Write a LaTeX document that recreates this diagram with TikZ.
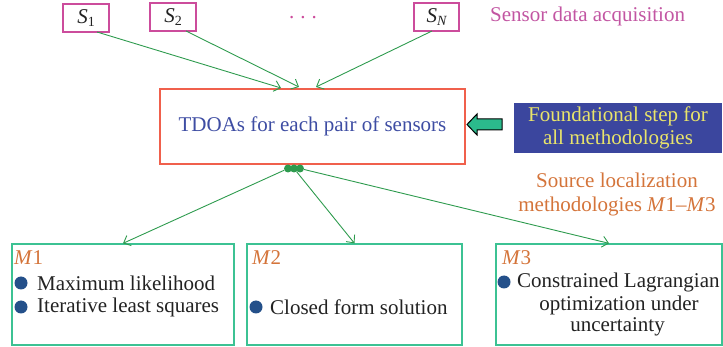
\documentclass[tikz,border=0pt]{standalone}
\usepackage{fontspec}
\setmainfont{Liberation Serif}
\usetikzlibrary{arrows.meta}
\definecolor{magb}{HTML}{CC4C9C}
\definecolor{magt}{HTML}{C255A2}
\definecolor{grn}{HTML}{2E9B4E}
\definecolor{redb}{HTML}{F0604C}
\definecolor{bluet}{HTML}{3E4DA3}
\definecolor{blueb}{HTML}{3B469E}
\definecolor{yel}{HTML}{E9E46A}
\definecolor{orng}{HTML}{D4743A}
\definecolor{teal}{HTML}{3CC293}
\definecolor{tealf}{HTML}{2BBA8C}
\definecolor{bul}{HTML}{24508A}
\definecolor{txt}{HTML}{222222}
\newcommand{\sensorlab}[1]{{\itshape S}\raisebox{-0.3ex}{\fontsize{14}{14}\selectfont #1}}
\begin{document}
\begin{tikzpicture}[x=1pt,y=-1pt,
  sbox/.style={draw=magb,line width=1.3pt,minimum width=46pt,minimum height=28pt,inner sep=0pt,text=txt,font=\fontsize{21}{22}\selectfont},
  mbox/.style={draw=teal,line width=1.3pt,minimum height=101pt,inner sep=0pt},
  conn/.style={draw=grn,line width=0.9pt,-{Straight Barb[length=6pt,width=11pt]}},
  mlab/.style={text=orng,font=\fontsize{21}{22}\selectfont,anchor=west,inner sep=0pt},
  btxt/.style={text=txt,font=\fontsize{21}{22}\selectfont,inner sep=0pt},
  bullet/.style={circle,fill=bul,minimum size=13pt,inner sep=0pt}]
\useasboundingbox (0,0) rectangle (723,347);
% sensors
\node[sbox] (s1) at (86,18) {\sensorlab{1}};
\node[sbox] (s2) at (173,17) {\sensorlab{2}};
\node[sbox,minimum width=45pt] (sn) at (436.5,17) {\sensorlab{\itshape N}};
\node[text=magb,font=\fontsize{21}{22}\selectfont,inner sep=0pt,anchor=base] (dots) at (303,19) {.\hspace{6pt}.\hspace{6pt}.};
\node[text=magt,font=\fontsize{21}{22}\selectfont,anchor=west,inner sep=0pt] (sda) at (490,16) {Sensor data acquisition};
% TDOA
\node[draw=redb,line width=1.3pt,minimum width=305pt,minimum height=75pt,inner sep=0pt,text=bluet,font=\fontsize{21}{22}\selectfont] (tdoa) at (312.5,126.5) {TDOAs for each pair of sensors};
\coordinate (a1) at (97,32);
\coordinate (a2) at (186,31);
\coordinate (an) at (432,31);
\coordinate (t1) at (281,88);
\coordinate (t2) at (299,87);
\coordinate (tn) at (316,87);
\draw[conn] (a1) -- (t1);
\draw[conn] (a2) -- (t2);
\draw[conn] (an) -- (tn);
% foundational
\node[fill=blueb,minimum width=208pt,minimum height=50pt,inner sep=0pt,text=yel,align=center,font=\fontsize{21}{23}\selectfont] (fs) at (618,128) {Foundational step for\\all methodologies};
\draw[fill=tealf,draw=black,line width=1pt] (467,124.5) -- (477,114) -- (477,119) -- (502,119) -- (502,130) -- (477,130) -- (477,135) -- cycle;
\node[text=orng,align=center,font=\fontsize{21}{24}\selectfont] (sl) at (617,194) {Source localization\\methodologies \textit{M}1--\textit{M}3};
% hub dots
\foreach \i/\x in {h1/288,h2/294,h3/300}{\node[circle,fill=grn,minimum size=8pt,inner sep=0pt] (\i) at (\x,168.5) {};}
% method boxes
\node[mbox,minimum width=222pt] (m1) at (123,294.5) {};
\node[mbox,minimum width=215pt] (m2) at (354.5,294.5) {};
\node[mbox,minimum width=226pt] (m3) at (609,294.5) {};
\draw[conn] (h1) -- (m1.north);
\draw[conn] (h2) -- (m2.north);
\draw[conn] (h3) -- (m3.north);
% M1
\node[mlab] (l1) at (14,258) {\textit{M}1};
\node[bullet] (b11) at (21,283) {};
\node[btxt,anchor=west] (t11) at (37,283) {Maximum likelihood};
\node[bullet] (b12) at (21,307) {};
\node[btxt,anchor=west] (t12) at (37,307) {Iterative least squares};
% M2
\node[mlab] (l2) at (252,258) {\textit{M}2};
\node[bullet] (b21) at (256,307) {};
\node[btxt,anchor=west] (t21) at (270,307) {Closed form solution};
% M3
\node[mlab] (l3) at (502,258) {\textit{M}3};
\node[bullet] (b31) at (504,282) {};
\node[btxt,anchor=west] (t31) at (517,282) {Constrained Lagrangian};
\node[btxt] (t32) at (619,305) {optimization under};
\node[btxt] (t33) at (617.5,327) {uncertainty};
\end{tikzpicture}
\end{document}
